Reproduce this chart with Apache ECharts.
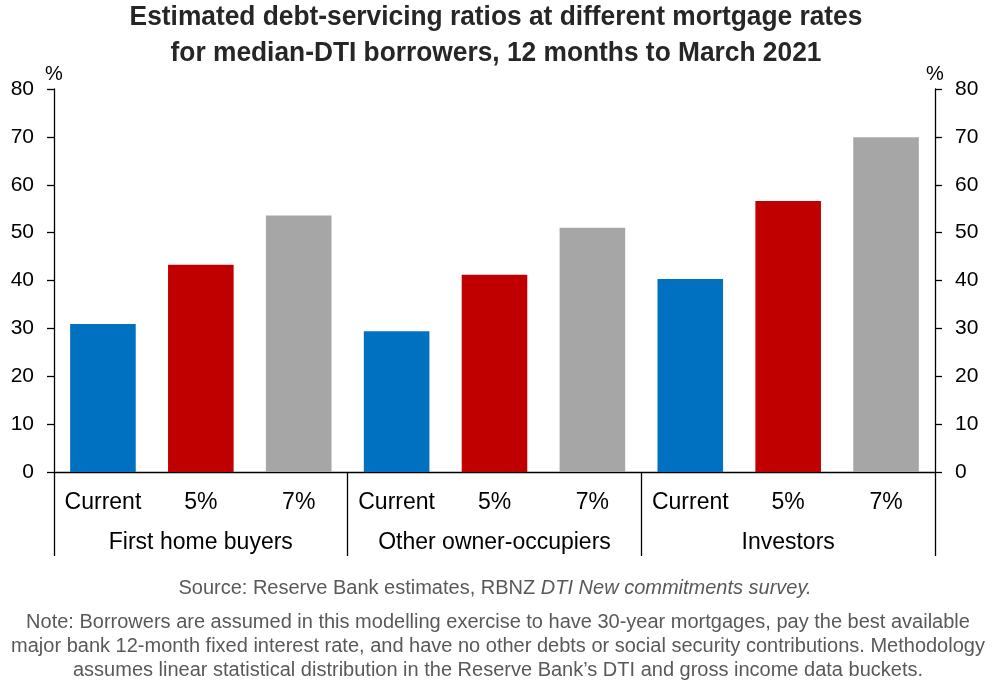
<!DOCTYPE html>
<html>
<head>
<meta charset="utf-8">
<script src="https://cdn.jsdelivr.net/npm/echarts@6/dist/echarts.min.js"></script>
<style>
html,body{margin:0;padding:0;background:#fff;}
#c{width:996px;height:682px;}
</style>
</head>
<body>
<div id="c"></div>
<script>
// ---- data ----
const groups = ['First home buyers', 'Other owner-occupiers', 'Investors'];
const scenarios = ['Current', '5%', '7%'];
const currentRate = [30.9, 29.4, 40.3];
const rate5 = [43.3, 41.2, 56.6];
const rate7 = [53.6, 51.0, 69.9];
const yMin = 0, yMax = 80, yStep = 10;
const scenarioColors = ['#0070C0', '#C00000', '#A6A6A6'];

const titleText = 'Estimated debt-servicing ratios at different mortgage rates\nfor median-DTI borrowers, 12 months to March 2021';
const sourceText = 'Source: Reserve Bank estimates, RBNZ ';
const sourceItalic = 'DTI New commitments survey.';
const noteText = 'Note: Borrowers are assumed in this modelling exercise to have 30-year mortgages, pay the best available\nmajor bank 12-month fixed interest rate, and have no other debts or social security contributions. Methodology\nassumes linear statistical distribution in the Reserve Bank\u2019s DTI and gross income data buckets.';

// ---- build ----
const seriesByScenario = [currentRate, rate5, rate7];
const cats = [];
const barData = [];
groups.forEach((g, gi) => {
  scenarios.forEach((s, si) => {
    cats.push(s);
    barData.push({ value: seriesByScenario[si][gi], itemStyle: { color: scenarioColors[si] } });
  });
});

const sans = '"Liberation Sans", Arial, sans-serif';

const yAxisBase = {
  type: 'value', min: yMin, max: yMax, interval: yStep,
  name: '%',
  nameLocation: 'end',
  nameGap: 5,
  nameTextStyle: { fontFamily: sans, fontSize: 20, color: '#000' },
  axisLine: { show: true, lineStyle: { color: '#000', width: 1.3 } },
  axisTick: { show: true, length: 7, inside: false, lineStyle: { color: '#000', width: 1.3 } },
  axisLabel: { fontFamily: sans, fontSize: 21, color: '#000', margin: 20 },
  splitLine: { show: false }
};

const chart = echarts.init(document.getElementById('c'), null, { renderer: 'canvas' });
chart.setOption({
  animation: false,
  backgroundColor: '#fff',
  graphic: [
    {
      type: 'text', x: 496, y: 35, scaleX: 0.94, scaleY: 1,
      style: {
        text: titleText, textAlign: 'center', textVerticalAlign: 'middle',
        font: 'bold 28px "Liberation Sans", Arial, sans-serif', lineHeight: 36, fill: '#262626'
      }
    },
    {
      type: 'text', x: 495, y: 588,
      style: {
        text: '{n|' + sourceText + '}{i|' + sourceItalic + '}',
        textAlign: 'center', textVerticalAlign: 'middle',
        rich: {
          n: { fontFamily: sans, fontSize: 20, fill: '#595959', color: '#595959' },
          i: { fontFamily: sans, fontSize: 20, fill: '#595959', color: '#595959', fontStyle: 'italic' }
        }
      }
    },
    {
      type: 'text', x: 498, y: 646,
      style: {
        text: noteText, textAlign: 'center', textVerticalAlign: 'middle',
        font: '20px "Liberation Sans", Arial, sans-serif', lineHeight: 24, fill: '#595959'
      }
    }
  ],
  grid: { left: 54, right: 61, top: 89, bottom: 210, containLabel: false },
  xAxis: [
    {
      type: 'category', data: cats, position: 'bottom',
      axisLine: { show: true, lineStyle: { color: '#000', width: 1.3 } },
      axisTick: { show: false },
      axisLabel: { interval: 0, fontFamily: sans, fontSize: 23, color: '#000', margin: 19 }
    },
    {
      type: 'category', data: groups, position: 'bottom',
      axisLine: { show: false },
      axisTick: { show: true, length: 84, interval: 0, lineStyle: { color: '#000', width: 1.3 } },
      axisLabel: { interval: 0, fontFamily: sans, fontSize: 23, color: '#000', margin: 59 }
    }
  ],
  yAxis: [
    Object.assign({}, yAxisBase, { position: 'left' }),
    Object.assign({}, yAxisBase, { position: 'right' })
  ],
  series: [
    {
      type: 'bar', xAxisIndex: 0, yAxisIndex: 0,
      barWidth: '67%',
      data: barData
    }
  ]
});
</script>
</body>
</html>
